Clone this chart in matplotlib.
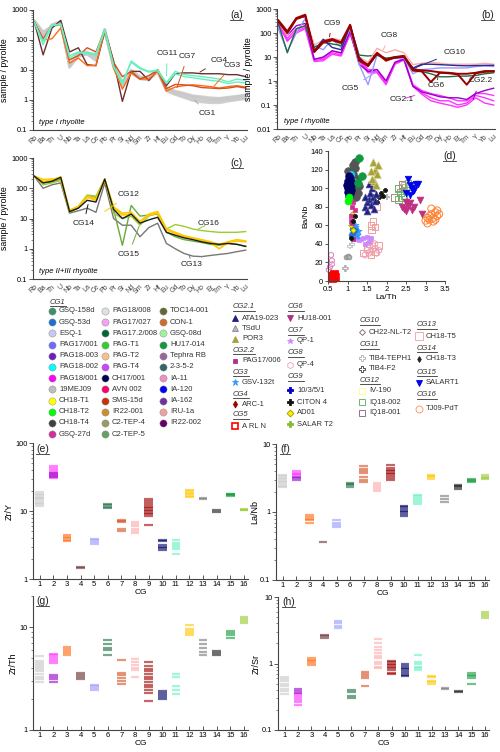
import matplotlib
matplotlib.use('Agg')
import matplotlib.pyplot as plt
from matplotlib.ticker import LogLocator, NullFormatter, FuncFormatter
import numpy as np

plt.rcParams['font.family'] = ['Liberation Sans', 'DejaVu Sans']

# ---------------- data: spider diagrams ----------------
ELEMENTS = ['Rb', 'Ba', 'Th', 'U', 'Nb', 'Ta', 'La', 'Ce', 'Pb', 'Pr', 'Sr', 'Nd', 'Sm',
            'Zr', 'Hf', 'Eu', 'Gd', 'Tb', 'Dy', 'Ho', 'Er', 'Tm', 'Y', 'Yb', 'Lu']

# panel (a) type I rhyolite
A_CG1 = [
    [420, 150, 300, 380, 14, 32, 36, 25, 210, 14, 3.4, 9, 5.5, 5.0, 9.0, 2.3, 1.8, 1.5, 1.2, 1.1, 1.0, 1.0, 1.1, 1.2, 1.3],
    [380, 110, 330, 420, 12, 30, 33, 22, 190, 12, 3.0, 8, 5.0, 4.6, 8.5, 2.1, 1.6, 1.3, 1.05, 0.95, 0.9, 0.9, 1.0, 1.05, 1.15],
    [450, 190, 280, 350, 16, 36, 40, 30, 230, 16, 4.0, 10, 6.0, 5.5, 10, 2.6, 2.0, 1.7, 1.4, 1.3, 1.2, 1.15, 1.25, 1.35, 1.5],
    [400, 130, 310, 400, 13, 28, 34, 20, 200, 13, 2.8, 8.5, 5.2, 4.8, 8.8, 2.0, 1.5, 1.2, 0.95, 0.85, 0.8, 0.8, 0.9, 1.0, 1.1],
    [430, 170, 290, 370, 15, 34, 38, 28, 220, 15, 3.6, 9.5, 5.8, 5.2, 9.5, 2.4, 1.9, 1.6, 1.3, 1.2, 1.1, 1.1, 1.2, 1.3, 1.4],
]
A_CG3 = [400, 100, 110, 250, 17, 25, 14, 14, 220, 12, 2.3, 8, 5, 5, 9, 2.0, 2.7, 3.0, 3.2, 3.0, 2.8, 2.5, 2.8, 3.0, 2.7]
A_CG7 = [400, 110, 300, 330, 22, 30, 55, 40, 220, 18, 6, 9, 5, 6.5, 10, 2.4, 3.3, 3.2, 3.0, 2.6, 2.5, 2.4, 2.5, 2.8, 2.5]
A_CG4 = [400, 32, 250, 450, 40, 55, 15, 14, 200, 20, 0.9, 9, 9, 4.5, 10, 3.0, 7.5, 8, 8, 7.5, 7.5, 7.5, 7, 7, 6]
A_CG11 = [
    [400, 70, 300, 350, 30, 40, 38, 35, 230, 14, 3.3, 20, 12, 9, 10, 3.8, 9, 7, 6.5, 6, 5.5, 5, 4, 5, 4.5],
    [380, 90, 320, 330, 25, 38, 35, 32, 210, 13, 4, 18, 11, 8.5, 9.5, 3.5, 7.5, 6, 5.5, 5, 4.5, 4.2, 3.5, 4, 3.7],
]

# panel (b) type I rhyolite
B_CG9 = [
    [340, 117, 420, 580, 17, 45, 56, 41, 220, 8, 4.8, 15, 7.8, 10, 11, 3.0, 2.8, 2.6, 2.3, 2.2, 2.0, 2.0, 2.2, 2.6, 2.6],
    [300, 100, 380, 520, 16, 40, 50, 38, 200, 7, 4.3, 14, 7, 9.5, 10.5, 2.7, 2.5, 0.9, 2.2, 2.1, 1.9, 0.7, 2.1, 2.4, 2.5],
]
B_CG8 = [300, 80, 400, 500, 32, 50, 60, 50, 220, 10, 6, 23, 15, 20, 15, 4.8, 5.5, 6, 5.5, 5, 5, 5, 5, 5.5, 5]
B_CG10 = [300, 100, 400, 500, 18, 55, 25, 20, 220, 10, 4, 13, 8, 9, 10, 3.5, 5, 5, 4.8, 4.6, 4.4, 4.3, 4.4, 4.5, 4.5]
B_CG6 = [250, 15, 150, 200, 25, 40, 35, 30, 200, 12, 11, 12, 9, 10, 11, 3.5, 2.5, 2.0, 1.5, 1.5, 1.6, 1.6, 1.7, 2.0, 2.2]
B_CG5 = [150, 17, 100, 400, 30, 20, 55, 25, 150, 5, 0.7, 12, 8, 9, 9, 2.0, 3, 3.2, 3.5, 3.5, 3.5, 3.5, 4, 4.2, 4]
B_CG21 = [
    [250, 45, 120, 170, 7, 8, 15, 12, 100, 8, 2.5, 2.5, 0.8, 5.3, 8, 0.65, 0.32, 0.2, 0.15, 0.15, 0.1, 0.12, 0.25, 0.2, 0.15],
    [220, 60, 150, 200, 8, 9, 18, 14, 120, 9, 3, 3, 1.0, 6, 9, 0.7, 0.4, 0.3, 0.25, 0.2, 0.15, 0.15, 0.3, 0.3, 0.25],
    [200, 50, 100, 150, 6.5, 7, 13, 11, 90, 7, 2.2, 2.2, 0.7, 5, 7.5, 0.6, 0.28, 0.15, 0.12, 0.1, 0.08, 0.1, 0.2, 0.12, 0.1],
]
B_CG22 = [300, 80, 200, 250, 8, 10, 18, 15, 120, 5, 2.5, 3, 1.0, 6, 8, 0.6, 0.35, 0.28, 0.22, 0.2, 0.2, 0.17, 0.3, 0.4, 0.5]

# panel (c) type II+III rhyolite
C_CG12 = [
    [250, 195, 200, 220, 19, 25, 55, 45, 200, 24, 15, 16, 8, 14, 17, 4.6, 3.5, 2.7, 2.3, 2.0, 1.7, 1.4, 1.7, 2.0, 1.8],
    [240, 170, 180, 240, 18, 24, 50, 40, 190, 22, 13, 14, 7.5, 13, 15, 4.2, 3.2, 2.5, 2.2, 1.9, 1.6, 1.0, 1.6, 1.8, 1.7],
]
C_CG14 = [250, 150, 170, 230, 17, 22, 40, 35, 200, 20, 10, 14, 7, 9, 11, 3.5, 2.8, 2.3, 2.0, 1.7, 1.5, 1.4, 1.5, 1.4, 1.2]
C_CG13 = [250, 100, 130, 150, 15, 18, 22, 16, 150, 10, 6, 6, 2.5, 5, 7, 1.5, 1.0, 0.7, 0.57, 0.55, 0.6, 0.65, 0.7, 0.8, 0.9]
C_CG15 = [250, 150, 160, 200, 16, 22, 55, 50, 200, 20, 1.3, 27, 12, 13, 14, 3.5, 2.5, 2.0, 1.8, 1.6, 1.4, 1.3, 1.5, 1.4, 1.2]
C_CG16 = [250, 130, 150, 180, 17, 25, 60, 55, 200, 15, 10, 12, 6, 12, 15, 4.5, 6.3, 5.5, 4.5, 4.0, 3.7, 3.5, 3.5, 3.5, 3.7]

# ---------------- data: ratio panels (one list per CG 1..16) ----------------
CG_NUM = list(range(1, 17))
ZR_Y = [[11.8, 12.5, 13.2, 14.0, 14.8, 15.5, 16.3, 17.2, 18.0, 18.8],
        [31, 33, 35, 37, 40, 43, 46], [3.6, 3.8, 4.0, 4.2, 4.4], [1.45, 1.5], [3.3, 3.5, 3.7, 3.9],
        [11.0, 11.6, 12.2, 12.8], [5.0, 5.5, 6.8, 7.1, 7.4], [4.7, 5.0, 5.5, 6.0, 6.5, 7.0],
        [6.3, 8.5, 9.0, 9.5, 10.0, 10.5, 11.0, 11.5, 12.1, 13.0, 14.0, 15.0],
        [2.7, 2.9, 3.0, 3.2, 3.6, 3.8], [2.3, 2.8, 3.0, 3.2, 3.4, 3.7],
        [15.8, 16.5, 17.5, 18.5, 19.5, 20.5], [15.0, 15.5], [9.8, 10.2], [16.5, 17.0, 17.5, 18.0], [10.2, 10.5, 10.8]]
ZR_Y_CG22 = [32, 34, 36]
LA_NB = [[2.3, 2.45, 2.6, 2.75, 2.9, 3.05, 3.2, 3.35, 3.5],
         [3.5, 3.65, 3.8, 3.95], [0.7, 0.75, 0.8, 0.85, 0.9], [0.36], [0.6, 0.65, 0.7, 0.76],
         [2.35, 2.5, 2.6, 2.7], [2.8, 3.0, 3.3, 3.8, 4.0, 4.3, 4.7], [2.05, 2.2, 2.35, 2.5, 2.7],
         [3.0, 3.2, 3.4, 3.6, 3.8, 4.0, 4.2, 4.5, 4.9],
         [0.86, 0.92, 1.0, 1.05, 1.12, 1.18, 1.24], [1.3, 1.4, 1.5, 1.6, 1.7, 1.8],
         [3.1, 3.25, 3.4, 3.5], [1.4, 1.55, 1.7], [2.2, 2.3, 2.4, 2.5], [2.75, 2.85, 2.95, 3.05], [3.1, 3.2, 3.3, 3.45]]
LA_NB_CG22 = [3.0, 3.15, 3.3]
ZR_TH = [[2.9, 3.1, 3.3, 3.5, 3.7, 3.9, 4.1, 4.3, 4.5, 4.7, 5.2],
         [4.5, 4.7, 4.9, 5.1, 5.3, 5.5], [5.3, 5.6, 5.9, 6.1, 6.35], [3.1, 3.3, 3.45, 3.6], [2.45, 2.55, 2.65, 2.75],
         [5.3, 6.0, 6.3, 6.8, 7.4], [2.8, 3.0, 3.2, 3.4, 3.6, 4.8], [3.3, 3.8, 4.0, 4.3, 4.6, 4.9],
         [1.9, 2.3, 2.45, 2.6, 2.75, 2.9, 3.1, 3.3, 3.5, 3.7, 3.9, 4.15, 4.6],
         [2.0, 2.1, 2.2, 2.3, 2.4], [2.25, 2.45, 2.7, 3.3, 3.5],
         [8.4, 8.8, 9.2, 9.6, 10.5], [5.3, 5.7, 6.2, 6.8, 7.4], [5.4, 5.6, 5.8], [7.8, 8.3, 8.8, 9.2], [10.9, 11.4, 11.9, 12.4]]
ZR_TH_CG22 = [2.95, 3.1, 3.25, 3.4]
ZR_SR = [[0.35, 0.38, 0.42, 0.46, 0.5, 0.54, 0.58, 0.62],
         [0.24, 0.26, 0.28, 0.3, 0.32, 0.35], [0.96, 1.02, 1.08, 1.14, 1.2], [2.4, 2.55, 2.7], [3.4, 3.7, 4.0, 4.3],
         [0.30, 0.33, 0.37, 0.40], [0.46, 0.6, 0.65, 0.7, 0.74],
         [0.85, 0.9, 1.0, 1.07, 1.2, 1.3, 1.45, 1.6, 1.8, 2.0, 2.3],
         [0.69, 0.72, 0.8, 0.85, 0.9, 0.95, 1.0, 1.05, 1.1],
         [0.64, 0.68, 0.72, 0.77, 0.82, 0.87, 0.92, 0.98], [0.8, 0.85, 0.9, 1.0, 1.07, 1.35],
         [0.49, 0.52, 0.55, 0.62, 0.66], [0.41, 0.43], [0.37, 0.39], [0.49, 0.6, 0.64, 0.68, 0.72], [4.8, 5.1, 5.5, 5.9]]
ZR_SR_CG22 = [0.36, 0.38, 0.41]

# ---------------- data: scatter (d)  (La/Th, Ba/Nb) ----------------
D_CH17_001 = [(1.0, 100), (1.02, 105), (1.05, 108), (1.08, 103), (1.0, 96), (1.04, 92), (1.06, 110), (1.1, 98),
              (1.03, 113), (0.98, 103), (1.07, 95), (1.12, 106), (1.0, 108), (1.05, 99)]
D_CH18_T4 = [(1.15, 125), (1.18, 128), (1.2, 122), (1.1, 118), (1.25, 110), (1.3, 102), (1.2, 100), (1.28, 95),
             (1.15, 115), (1.0, 118), (1.22, 91), (1.12, 96)]
D_HU17_014 = [(1.3, 132), (1.36, 113), (1.27, 106)]
D_CH18_T2 = [(1.0, 86), (1.05, 90)]
D_PAG18_002 = [(1.08, 115), (1.15, 108), (1.03, 98)]
D_CH18_T1 = [(1.05, 88), (1.1, 60), (1.15, 55), (1.12, 72)]
D_PAG18_001 = [(1.12, 80), (1.1, 70), (1.08, 65), (1.15, 85), (1.2, 76)]
D_GSQ_27D = [(0.55, 15), (0.6, 22), (0.58, 28), (0.52, 12), (0.6, 18)]
D_19MEJ09 = [(0.95, 26), (1.0, 27), (1.05, 26)]
D_PAG18_008 = [(0.95, 14), (1.1, 40), (1.05, 38)]
D_GSQ_53D = [(1.1, 50), (1.15, 52), (1.2, 55), (1.12, 56)]
D_ATA19_023 = [(1.45, 80), (1.5, 85), (1.55, 88), (1.6, 82), (1.65, 90), (1.7, 86), (1.5, 75), (1.58, 95),
               (1.68, 78), (1.62, 100), (1.45, 90), (1.72, 94), (1.55, 105)]
D_POR3 = [(1.65, 128), (1.7, 120), (1.75, 115), (1.6, 118), (1.68, 108), (1.72, 103), (1.62, 110), (1.78, 125)]
D_PAG17_006 = [(1.12, 62), (1.15, 45)]
D_GSV_132T = [(1.15, 52), (1.2, 55), (1.25, 50), (1.18, 58), (1.22, 48), (1.28, 54), (1.2, 60)]
D_A_RL_N = [(0.62, 5), (0.65, 6), (0.68, 4), (0.6, 3), (0.66, 8), (0.64, 5)]
D_HU18_001 = [(2.4, 80), (2.45, 78), (2.5, 75), (2.55, 82), (2.6, 84), (2.65, 76), (2.5, 85), (2.9, 72),
              (2.85, 87), (2.7, 80)]
D_QP1 = [(1.2, 45), (1.3, 44), (1.4, 46), (1.5, 47), (1.6, 46), (1.55, 42), (1.45, 40), (1.35, 45)]
D_QP4 = [(1.5, 33), (1.6, 32), (1.7, 35), (1.65, 38), (1.55, 30), (1.75, 30), (1.45, 28), (1.8, 33), (1.7, 40)]
D_CITON4 = [(1.8, 90), (1.85, 95), (1.9, 92), (1.95, 98), (1.75, 85), (1.1, 46), (1.15, 65), (1.2, 70)]
D_TIB4_TEPH1 = [(2.0, 91), (0.92, 14)]
D_IQ18_002 = [(2.3, 100), (2.35, 95), (2.4, 90), (2.45, 92), (2.55, 105), (2.6, 102), (2.3, 88), (2.5, 98)]
D_IQ18_001 = [(2.2, 90), (2.3, 100), (2.4, 104)]
D_CH18_T5 = [(1.6, 60), (1.65, 64), (1.7, 58), (1.62, 55), (1.4, 30), (1.5, 35), (1.6, 28), (1.7, 32),
             (1.8, 38), (1.55, 40), (1.75, 80), (2.4, 101), (2.45, 103)]
D_SALART1 = [(2.55, 110), (2.6, 103), (2.65, 100), (2.7, 98), (2.75, 105), (2.8, 104), (2.5, 95), (2.6, 93), (2.68, 97)]
D_TJ09_PDT = [(3.0, 65), (3.05, 68), (3.1, 70), (3.15, 72), (3.2, 68), (3.25, 74), (3.3, 76), (3.35, 72),
              (3.1, 66), (3.2, 64), (3.15, 78), (3.05, 62), (3.3, 70), (3.25, 66)]

# ---------------- legend data ----------------
LEG_COL1 = ['GSQ-158d', 'GSQ-53d', 'ESQ-1', 'PAG17/001', 'PAG18-003', 'PAG18-002', 'PAG18/001', '19MEJ09',
            'CH18-T1', 'CH18-T2', 'CH18-T4', 'GSQ-27d']
LEG_COL2 = ['PAG18/008', 'PAG17/027', 'PAG17.2/008', 'PAG-T1', 'PAG-T2', 'PAG-T4', 'CH17/001', 'AVN 002',
            'SMS-15d', 'IR22-001', 'C2-TEP-4', 'C2-TEP-5']
LEG_COL3 = ['TOC14-001', 'CON-1', 'GSQ-08d', 'HU17-014', 'Tephra RB', '2-3-5-2', 'IA-11', 'IA-120', 'IA-162',
            'IRU-1a', 'IR22-002']

# ---------------- styles ----------------
C1_COLORS = ['#3d8f6e', '#1f6fd0', '#c8c8f0', '#6b6bff', '#6a1fc0', '#00ffff', '#ff00ff', '#bdbdbd',
             '#ffff00', '#00ff00', '#404040', '#d02fa0']
C2_COLORS = ['#e0e0e0', '#f5a0f0', '#006633', '#33cc33', '#f8c090', '#cc44ff', '#000050', '#ff0066',
             '#c8300a', '#c89030', '#999966', '#66a066']
C3_COLORS = ['#666633', '#d06a30', '#a0f0a0', '#119940', '#996699', '#336666', '#f090c0', '#0000ff',
             '#7030a0', '#f0a0a0', '#660066']
CGC = ['#c8c8c8', '#ff33ff', '#ff6a13', '#6b2f2f', '#9a9aff', '#1f6b45', '#d4501e', '#ffabab', '#9b0000',
       '#000066', '#66f0c0', '#ffc800', '#777777', '#1a1a1a', '#149a3c', '#99cc33']
CG22C = '#9900cc'

W, H = 500, 752
fig = plt.figure(figsize=(5, 7.52), dpi=100)


def pax(l, t, r, b):
    return fig.add_axes([l / W, 1 - b / H, (r - l) / W, (b - t) / H])


fmt = FuncFormatter(lambda v, p: f'{v:g}')


def log_y(ax, lo, hi):
    ax.set_yscale('log')
    ax.set_ylim(lo, hi)
    ax.yaxis.set_major_locator(LogLocator(base=10, numticks=12))
    ax.yaxis.set_minor_locator(LogLocator(base=10, subs=np.arange(2, 10), numticks=12))
    ax.yaxis.set_minor_formatter(NullFormatter())
    ax.yaxis.set_major_formatter(fmt)
    ax.tick_params(axis='y', which='major', labelsize=5.3, length=3, width=0.7, pad=1, color='#555')
    ax.tick_params(axis='y', which='minor', length=1.8, width=0.5, color='#555')
    for s in ['top', 'right']:
        ax.spines[s].set_visible(False)
    for s in ['left', 'bottom']:
        ax.spines[s].set_linewidth(0.8)
        ax.spines[s].set_color('#444')


def spider(ax, lo, hi, label):
    log_y(ax, lo, hi)
    ax.set_xlim(-0.15, 24.15)
    ax.set_xticks(range(len(ELEMENTS)))
    ax.set_xticklabels(ELEMENTS, rotation=45, ha='right', rotation_mode='anchor', fontsize=5, color='#444')
    ax.tick_params(axis='x', length=0, pad=3)
    ax.set_ylabel('sample / pyrolite', fontsize=6.3, labelpad=1.5)
    ax.text(0.03, 0.03, label, transform=ax.transAxes, fontsize=5.5, style='italic', va='bottom')


x = np.arange(len(ELEMENTS))


def ann(ax, s, xy, xyt, c):
    ax.annotate(s, xy=xy, xytext=xyt, fontsize=6, ha='center', va='center', color='#222',
                arrowprops=dict(arrowstyle='-', color=c, lw=0.7, shrinkA=3, shrinkB=0))


# ---- (a)
axa = pax(33, 10, 247, 130)
spider(axa, 0.1, 1000, 'type I rhyolite')
for ln in A_CG1:
    axa.plot(x, ln, color=CGC[0], lw=1.8, alpha=0.8)
axa.plot(x, A_CG4, color=CGC[3], lw=1.0)
axa.plot(x, A_CG3, color=CGC[2], lw=1.0)
axa.plot(x, A_CG7, color=CGC[6], lw=1.0)
for ln in A_CG11:
    axa.plot(x, ln, color=CGC[10], lw=1.0)
ann(axa, 'CG11', (15.0, 6.5), (15.1, 36), CGC[10])
ann(axa, 'CG7', (16.2, 2.6), (17.4, 29), CGC[6])
ann(axa, 'CG4', (18.8, 8.5), (21.0, 21), CGC[3])
ann(axa, 'CG3', (20.4, 2.9), (22.5, 14), CGC[2])
ann(axa, 'CG1', (18.2, 1.0), (19.6, 0.36), '#aaaaaa')

# ---- (b)
axb = pax(277, 9, 495, 129)
spider(axb, 0.01, 1000, 'type I rhyolite')
for ln in B_CG21:
    axb.plot(x, ln, color=CGC[1], lw=1.0)
axb.plot(x, B_CG22, color=CG22C, lw=1.0)
axb.plot(x, B_CG5, color=CGC[4], lw=1.0)
axb.plot(x, B_CG6, color=CGC[5], lw=1.0)
axb.plot(x, B_CG8, color=CGC[7], lw=1.0)
axb.plot(x, B_CG10, color='#2a2a90', lw=1.0)
for ln in B_CG9:
    axb.plot(x, ln, color=CGC[8], lw=1.4)
ann(axb, 'CG9', (5.7, 70), (6.0, 260), CGC[8])
ann(axb, 'CG8', (11.7, 20), (12.4, 77), CGC[7])
ann(axb, 'CG10', (15.3, 3.6), (19.6, 16), '#2a2a90')
ann(axb, 'CG5', (11.0, 2.5), (8.0, 0.5), CGC[4])
ann(axb, 'CG6', (17.8, 1.6), (17.6, 0.62), CGC[5])
ann(axb, 'CG2.2', (21.7, 0.17), (22.5, 1.0), CG22C)
ann(axb, 'CG2.1', (15.2, 0.25), (13.7, 0.17), CGC[1])

# ---- (c)
axc = pax(33, 158, 247, 279)
spider(axc, 0.1, 1000, 'type II+III rhyolite')
axc.plot(x, C_CG13, color=CGC[12], lw=1.0)
axc.plot(x, C_CG15, color='#6aaa3a', lw=1.0)
axc.plot(x, C_CG16, color=CGC[15], lw=1.0)
for ln in C_CG12:
    axc.plot(x, ln, color=CGC[11], lw=1.2)
axc.plot(x, C_CG14, color=CGC[13], lw=1.0)
ann(axc, 'CG12', (8.0, 17), (10.7, 62), CGC[11])
ann(axc, 'CG14', (6.1, 29), (5.6, 6.6), CGC[13])
ann(axc, 'CG15', (11.9, 5.6), (10.7, 0.65), '#6aaa3a')
ann(axc, 'CG16', (18.5, 4.3), (19.8, 6.8), CGC[15])
ann(axc, 'CG13', (17.6, 0.6), (17.9, 0.3), CGC[12])

# ---- (d)
axd = pax(328, 151, 445, 281)
axd.set_xlim(0.5, 3.5)
axd.set_ylim(0, 140)
axd.set_xticks([0.5, 1, 1.5, 2, 2.5, 3, 3.5])
axd.xaxis.set_major_formatter(fmt)
axd.set_yticks(range(0, 141, 20))
axd.tick_params(labelsize=5.5, length=2.5, width=0.7, pad=1, color='#555')
for s in ['top', 'right']:
    axd.spines[s].set_visible(False)
for s in ['left', 'bottom']:
    axd.spines[s].set_linewidth(0.8)
    axd.spines[s].set_color('#444')
axd.set_xlabel('La/Th', fontsize=6, labelpad=1)
axd.set_ylabel('Ba/Nb', fontsize=6, labelpad=1)


def sc(pts, marker, fc, ec, s=14, lw=0.5):
    xs = [p[0] for p in pts]
    ys = [p[1] for p in pts]
    axd.scatter(xs, ys, marker=marker, s=s, facecolors=fc, edgecolors=ec, linewidths=lw, clip_on=False)


sc(D_GSQ_27D, 'h', 'none', '#e080c0', 16, 0.7)
sc(D_19MEJ09, 'o', '#b0b0b0', '#888888', 12)
sc(D_PAG18_008, 'P', 'none', '#c0c0c0', 14, 0.6)
sc(D_TIB4_TEPH1, 'P', 'none', '#aaaaaa', 14, 0.6)
sc(D_QP4, 'h', 'none', '#f0a0c0', 22, 0.7)
sc(D_CH18_T5, 's', 'none', '#f0a0a0', 22, 0.7)
sc(D_QP1, 's', '#cc88ff', '#cc88ff', 10)
sc(D_GSV_132T, '*', '#3399ff', '#3399ff', 30)
sc(D_GSQ_53D, 'o', '#1f6fd0', '#1f6fd0', 12)
sc(D_CH18_T1, 'D', '#ffee00', '#999900', 8)
sc(D_PAG18_001, 's', '#d02f90', '#d02f90', 8)
sc(D_PAG17_006, 's', '#b03090', '#b03090', 8)
sc(D_CITON4, 'P', '#111111', '#111111', 10)
sc(D_ATA19_023, '^', '#202080', '#5050a0', 24)
sc(D_POR3, '^', '#a8a040', '#d0d080', 30)
sc(D_CH18_T4, 'o', '#555555', '#555555', 30)
sc(D_PAG18_002, 'o', '#00e0ff', '#00e0ff', 20)
sc(D_CH17_001, 'o', '#000066', '#000066', 30)
sc(D_HU17_014, 'o', '#119940', '#119940', 30)
sc(D_CH18_T2, 'o', '#00ff00', '#00ff00', 25)
sc(D_IQ18_001, 's', 'none', '#b08090', 22, 0.7)
sc(D_IQ18_002, 's', 'none', '#66bb66', 24, 0.7)
sc(D_HU18_001, 'v', '#c03080', '#c03080', 24)
sc(D_SALART1, 'v', '#0000ee', '#0000ee', 22)
sc(D_TJ09_PDT, 'o', 'none', '#ff8030', 26, 0.7)
sc(D_A_RL_N, 's', '#ff0000', '#ff0000', 30)


# ---- ratio panels
def ratio(ax, lo, hi, ylabel, data, data22):
    log_y(ax, lo, hi)
    ax.set_xlim(0.5, 16.3)
    ax.set_xticks(CG_NUM)
    ax.tick_params(axis='x', direction='in', length=3, labelsize=5.5, pad=1.5, width=0.7, color='#555')
    ax.set_xlabel('CG', fontsize=6, labelpad=0.5)
    ax.set_ylabel(ylabel, fontsize=6.5, labelpad=1)
    for i, vals in enumerate(data):
        c = CGC[i]
        ax.hlines(vals, CG_NUM[i] - 0.32, CG_NUM[i] + 0.32, colors=c, lw=1.6, alpha=0.6)
    ax.hlines(data22, CG_NUM[1] - 0.32, CG_NUM[1] + 0.32, colors=CG22C, lw=1.6, alpha=0.6)


axe = pax(33, 443, 248, 579)
ratio(axe, 1, 100, 'Zr/Y', ZR_Y, ZR_Y_CG22)
axf = pax(276, 444, 489, 580)
ratio(axf, 0.1, 10, 'La/Nb', LA_NB, LA_NB_CG22)
axg = pax(33, 596, 248, 730)
ratio(axg, 1, 20, 'Zr/Th', ZR_TH, ZR_TH_CG22)
axh = pax(278, 597, 489, 730)
ratio(axh, 0.1, 10, 'Zr/Sr', ZR_SR, ZR_SR_CG22)

# ---------------- overlay: legend + panel labels ----------------
lg = fig.add_axes([0, 0, 1, 1], facecolor='none')
lg.set_xlim(0, W)
lg.set_ylim(H, 0)
lg.axis('off')

underline = []


def head(xp, yp, s, size=5.5, italic=True):
    t = lg.text(xp, yp, s, fontsize=size, style='italic' if italic else 'normal', va='center', ha='left',
                color='#333')
    underline.append(t)


def item(xp, yp, s, marker, fc, ec, ms=4.5, mew=0.6):
    lg.plot([xp], [yp], marker=marker, ms=ms, mfc=fc, mec=ec, mew=mew, ls='none')
    lg.text(xp + 7, yp, s, fontsize=5.5, va='center', ha='left', color='#333')


head(50, 302, 'CG1')
for i, (n, c) in enumerate(zip(LEG_COL1, C1_COLORS)):
    item(52, 311 + i * 11.2, n, 'o', c, '#888888', 5.2, 0.3)
for i, (n, c) in enumerate(zip(LEG_COL2, C2_COLORS)):
    item(105, 311 + i * 11.2, n, 'o', c, '#888888', 5.2, 0.3)
for i, (n, c) in enumerate(zip(LEG_COL3, C3_COLORS)):
    item(163, 311 + i * 11.2, n, 'o', c, '#888888', 5.2, 0.3)

# column 4
head(233, 307, 'CG2.1')
item(235, 318, 'ATA19-023', '^', '#202080', '#202080', 4)
item(235, 328, 'TSdU', '^', '#b8b8b8', '#888888', 4)
item(235, 339, 'POR3', '^', '#a8a040', '#a8a040', 4)
head(233, 350, 'CG2.2')
item(235, 361, 'PAG17/006', 's', '#b03090', '#b03090', 3)
head(233, 372, 'CG3')
item(235, 382, 'GSV-132t', '*', '#3399ff', '#3399ff', 4.5)
head(233, 394, 'CG4')
item(235, 404, 'ARC-1', 'd', '#a00000', '#a00000', 3.5)
head(233, 415, 'CG5')
item(235, 426, 'A RL N', 's', 'white', '#ff0000', 4, 1.2)

# column 5
head(288, 307, 'CG6')
item(290, 318, 'HU18-001', 'v', '#b03080', '#b03080', 4.5)
head(288, 331, 'CG7')
item(290, 341, 'QP-1', '*', '#cc88ff', '#cc88ff', 4)
head(288, 353, 'CG8')
item(290, 365, 'QP-4', 'h', 'none', '#f0a0c0', 4.5)
head(288, 377, 'CG9')
item(290, 390, '10/3/5/1', 'P', '#0000cc', '#0000cc', 4)
item(290, 402, 'CITON 4', 'P', '#111111', '#111111', 4)
item(290, 413, 'AD01', 'D', '#ffee00', '#999900', 3.5)
item(290, 424, 'SALAR T2', 'P', '#88bb33', '#88bb33', 4)

# column 6
head(360, 321, 'CG10')
item(362, 332, 'CH22-NL-T2', 'D', 'none', '#806060', 3)
head(360, 345, 'CG11')
item(362, 358, 'TIB4-TEPH1', 'P', 'none', '#b0b0b0', 4.5)
item(362, 369, 'TIB4-F2', 'P', 'none', '#333333', 4.5)
head(360, 380, 'CG12')
item(362, 391, 'IV-190', 's', 'none', '#ffff80', 5)
item(362, 402, 'IQ18-002', 's', 'none', '#55aa55', 5)
item(362, 413, 'IQ18-001', 's', 'none', '#805a80', 5)

# column 7
head(417, 325, 'CG13')
item(419, 336, 'CH18-T5', 's', 'none', '#f0a0a0', 5.5)
head(417, 348, 'CG14')
item(419, 359, 'CH18-T3', 'd', '#222222', '#222222', 3)
head(417, 372, 'CG15')
item(419, 383, 'SALART1', 'v', '#0000ee', '#0000ee', 5)
head(417, 395, 'CG16')
item(419, 409, 'TJ09-PdT', 'o', 'none', '#ff9050', 5)


def plab(xp, yp, s, ha='left'):
    t = lg.text(xp, yp, s, fontsize=7.5, va='center', ha=ha, color='#222')
    underline.append(t)


plab(243, 15, '(a)', 'right')
plab(494, 15, '(b)', 'right')
plab(243, 163, '(c)', 'right')
plab(456, 156, '(d)', 'right')
plab(36, 449, '(e)')
plab(280, 449, '(f)')
plab(36, 601, '(g)')
plab(282, 602, '(h)')

fig.canvas.draw()
r = fig.canvas.get_renderer()
for t in underline:
    bb = t.get_window_extent(r)
    yy = H - bb.y0 + 0.3
    lg.plot([bb.x0, bb.x1], [yy, yy], color='#333', lw=0.6)

fig.savefig('out.png', dpi=100)
